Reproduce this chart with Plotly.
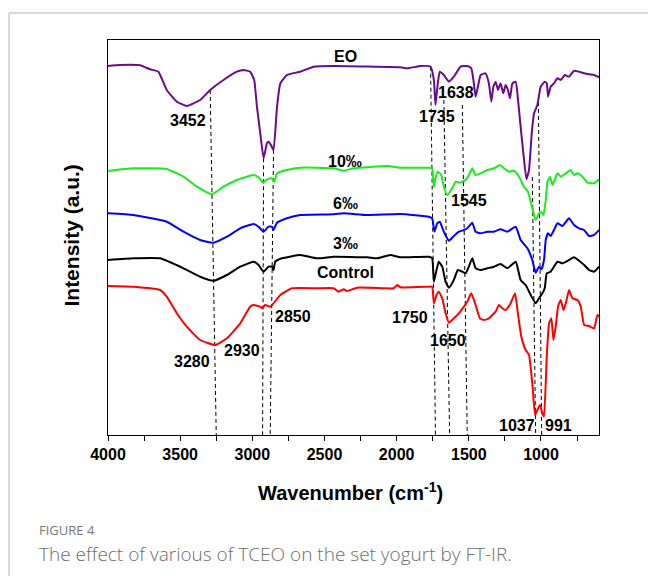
import plotly.graph_objects as go

# ---------------- data ----------------
eo_wn = [4000, 3917, 3778, 3709, 3651, 3593, 3523, 3454, 3362, 3292, 3200, 3107, 3061, 3015, 2987, 2968,
         2945, 2922, 2899, 2888, 2871, 2853, 2829, 2806, 2760, 2668, 2575, 2436, 1974, 1927, 1835, 1765,
         1742, 1731, 1715, 1701, 1673, 1638, 1604, 1557, 1511, 1483, 1465, 1453, 1437, 1418, 1384, 1361,
         1344, 1330, 1314, 1298, 1280, 1261, 1245, 1229, 1215, 1198, 1175, 1160, 1141, 1122, 1101, 1083,
         1064, 1048, 1025, 1002, 974, 960, 951, 933, 910, 886, 863, 835, 806, 771, 736, 701, 667, 632, 597]
eo_int = [369, 370, 369.7, 365.7, 363.3, 345, 333.3, 329, 335, 345, 355, 363.3, 365, 363.3, 355, 328.3,
          301.7, 276.7, 291.7, 293.3, 290, 285, 328.3, 351.7, 360, 363.3, 368.3, 369, 367.7, 366.7, 369, 368.3,
          355, 330, 351.7, 363.3, 360, 353.3, 358.3, 368.3, 369, 366.7, 351.7, 338.3, 348.3, 360, 361.7, 351.7,
          333.3, 348.3, 353.3, 345, 351.7, 341.7, 350, 345, 336.7, 351.7, 353.3, 336.7, 308.3, 281.7, 255.7, 265,
          301.7, 321.7, 330, 348.3, 353.3, 351.7, 338.3, 348.3, 351.7, 356.7, 355, 360, 358.3, 364.3, 363.3, 361.7,
          360.7, 360, 357.7]

p10_wn = [4000, 3824, 3593, 3477, 3384, 3280, 3200, 3107, 3037, 2991, 2957, 2926, 2899, 2864, 2848, 2829,
          2760, 2668, 2436, 2367, 2298, 2066, 1974, 1777, 1754, 1742, 1731, 1715, 1691, 1673, 1649, 1615,
          1592, 1562, 1545, 1522, 1500, 1476, 1453, 1418, 1372, 1326, 1284, 1257, 1222, 1187, 1152, 1118,
          1090, 1060, 1037, 1014, 1002, 983, 967, 955, 937, 921, 905, 886, 863, 828, 794, 771, 747, 713,
          678, 632, 597]
p10_int = [264, 266.7, 266, 258.3, 248.3, 240.7, 248.3, 255, 258.3, 260, 257.7, 252.3, 255.7, 256.7, 253.3, 261.7,
           265, 267.3, 266.7, 264.3, 266.7, 269, 267.3, 267.3, 266.7, 248.3, 256.7, 263.3, 260, 248.3, 240, 246.7,
           253.3, 252.3, 253.3, 255, 260, 266.7, 260, 261.7, 265, 266.7, 270, 266.7, 263.3, 264.3, 258.3, 248.3,
           243.3, 226.7, 215, 221.7, 223.3, 220, 235, 253.3, 258.3, 250, 255, 261.7, 258.3, 261.7, 265, 260, 261.7, 258.3,
           252.3, 251.7, 255.7]

p6_wn = [4000, 3824, 3593, 3477, 3362, 3269, 3176, 3084, 2991, 2957, 2922, 2888, 2864, 2853, 2829, 2760,
         2668, 2436, 2367, 2205, 1974, 1777, 1754, 1738, 1719, 1701, 1673, 1638, 1604, 1569, 1534, 1511,
         1476, 1453, 1418, 1372, 1326, 1280, 1233, 1175, 1141, 1094, 1060, 1037, 1014, 997, 979, 967,
         951, 933, 910, 886, 851, 806, 771, 736, 701, 667, 632, 597]
p6_int = [221.7, 220, 213.3, 203.3, 195, 192.3, 198.3, 206.7, 211, 208.3, 203.3, 208.3, 208.3, 205, 212.3, 216.7,
          220, 220.7, 221.7, 220, 221, 218.3, 216.7, 203.3, 211.7, 213.3, 203.3, 194.3, 199, 203.3, 205, 206.7,
          212.3, 203.3, 201.7, 203.3, 203.3, 205.7, 203.3, 208.3, 195, 186.7, 175, 162.3, 168.3, 165.7, 175, 195,
          201.7, 199, 205, 211.7, 209, 216.7, 210, 206.7, 205, 199, 200, 205]

p3_wn = [4000, 3824, 3639, 3477, 3362, 3269, 3176, 3084, 2991, 2957, 2922, 2888, 2864, 2853, 2841, 2795,
         2668, 2552, 2436, 2205, 2135, 2043, 1974, 1777, 1754, 1742, 1724, 1708, 1684, 1661, 1638, 1604,
         1576, 1545, 1522, 1500, 1476, 1453, 1418, 1372, 1326, 1280, 1233, 1175, 1141, 1106, 1071, 1037,
         1014, 990, 974, 960, 933, 910, 886, 851, 806, 771, 736, 701, 667, 632, 597]
p3_int = [175, 176.7, 176.7, 166.7, 158.3, 154.3, 160, 168.3, 173.3, 170, 163.3, 168.3, 168.3, 165, 173.3, 176.7,
          180, 176.7, 178.3, 177.7, 176.7, 180, 177.7, 178.3, 176.7, 153.3, 165, 173.3, 168.3, 153.3, 147.3, 155,
          165, 163.3, 161.7, 168.3, 176.7, 166.7, 165, 166.7, 168.3, 171, 166.7, 173.3, 155, 150, 140, 131.7,
          136.7, 141.7, 146.7, 161.7, 163.3, 168.3, 173.3, 171.7, 175, 177.7, 174.3, 170, 165, 163.3, 168.3]

ctrl_wn = [4000, 3824, 3639, 3593, 3523, 3454, 3362, 3257, 3176, 3084, 3015, 2991, 2945, 2933, 2910, 2876,
           2853, 2806, 2725, 2552, 2436, 2402, 2367, 2343, 2274, 2089, 2020, 1996, 1974, 1777, 1754, 1742,
           1724, 1708, 1684, 1661, 1638, 1604, 1569, 1534, 1511, 1483, 1453, 1423, 1395, 1361, 1337, 1314,
           1291, 1268, 1245, 1210, 1180, 1160, 1136, 1106, 1083, 1060, 1041, 1025, 1007, 990, 979, 960,
           944, 928, 914, 898, 882, 863, 844, 828, 806, 782, 747, 724, 701, 667, 632, 609, 597]
ctrl_int = [149, 148.3, 145, 138.3, 121.7, 108.3, 95, 90, 96.7, 111.7, 128.3, 130, 128.3, 126.7, 130, 128.3,
            131.7, 140, 146.7, 146.7, 146.7, 143.3, 145.7, 144, 147.3, 146.7, 146.7, 150, 147.7, 148.3, 148.3, 131.7,
            140, 143.3, 136.7, 121.7, 112.3, 116.7, 121.7, 128.3, 133.3, 141.7, 130, 116.7, 115, 116.7, 120, 123.3,
            130, 126.7, 125, 131.7, 141.7, 121.7, 98.3, 85, 80, 51.7, 20, 25, 30, 21.7, 18.3, 78.3,
            111.7, 116.7, 95, 108.3, 128.3, 135, 125, 131.7, 145, 136.7, 135, 128.3, 110, 109, 106.7, 120, 118.3]

# marker (dashed) lines: wavenumber at top, intensity at top, wavenumber at bottom
guide_top_wn = [3292, 2922, 2853, 1765, 1673, 1545, 1060, 1018]
guide_top_int = [345, 276.7, 285, 368.3, 335, 330, 258, 333]
guide_bot_wn = [3250, 2929, 2876, 1731, 1633, 1511, 1037, 995]

# peak / series labels: text, wavenumber, intensity
label_text = ["EO", "3452", "1735", "1638", "10‰", "1545", "6‰", "3‰", "Control",
              "2850", "2930", "3280", "1750", "1650", "1037", "991"]
label_wn = [2355, 3445, 1719, 1592, 2355, 1500, 2355, 2355, 2355,
            2718, 3072, 3419, 1911, 1645, 1164, 882]
label_int = [378.3, 315, 318.3, 342.7, 273.3, 234.3, 231.7, 191.7, 162.7,
             118.3, 85, 73.3, 118, 95, 10, 10]

tick_vals = [4000, 3500, 3000, 2500, 2000, 1500, 1000]
minor_tick_vals = [3750, 3250, 2750, 2250, 1750, 1250, 750]

series = [
    ("EO", eo_wn, eo_int, "#6a0a8c"),
    ("10‰", p10_wn, p10_int, "#1aeb1a"),
    ("6‰", p6_wn, p6_int, "#0000ff"),
    ("3‰", p3_wn, p3_int, "#000000"),
    ("Control", ctrl_wn, ctrl_int, "#ff0000"),
]

# ---------------- figure ----------------
fig = go.Figure()
for name, xs, ys, col in series:
    fig.add_trace(go.Scatter(x=xs, y=ys, mode="lines", name=name,
                             line=dict(color=col, width=2, shape="spline", smoothing=0.4),
                             showlegend=False, hoverinfo="skip"))

for t_wn, t_i, b_wn in zip(guide_top_wn, guide_top_int, guide_bot_wn):
    fig.add_shape(type="line", xref="x", yref="y", x0=t_wn, y0=t_i, x1=b_wn, y1=0,
                  line=dict(color="black", width=1, dash="4px,3px"), layer="below")

FONT = "Liberation Sans, Arial, sans-serif"
for txt, wn, it in zip(label_text, label_wn, label_int):
    fig.add_annotation(x=wn, y=it, xref="x", yref="y", text=txt, showarrow=False,
                       font=dict(family=FONT, size=16, color="black", weight="bold"),
                       xanchor="center", yanchor="middle")

# axis titles as annotations
fig.add_annotation(x=0.4929, y=-0.142, xref="paper", yref="paper",
                   text="Wavenumber (cm<sup>-1</sup>)", showarrow=False,
                   font=dict(family=FONT, size=20, color="black", weight="bold"),
                   xanchor="center", yanchor="middle")
fig.add_annotation(x=-0.0733, y=0.505, xref="paper", yref="paper", textangle=-90,
                   text="Intensity (a.u.)", showarrow=False,
                   font=dict(family=FONT, size=21, color="black", weight="bold"),
                   xanchor="center", yanchor="middle")

# caption
fig.add_annotation(x=-0.1446, y=-0.2405, xref="paper", yref="paper", text="FIGURE 4", showarrow=False,
                   font=dict(family="Open Sans, sans-serif", size=13, color="#777777"),
                   xanchor="left", yanchor="middle")
fig.add_annotation(x=-0.1446, y=-0.3013, xref="paper", yref="paper",
                   text="The effect of various of TCEO on the set yogurt by FT-IR.", showarrow=False,
                   font=dict(family="Open Sans, sans-serif", size=19, color="#6e6e6e", weight=300),
                   xanchor="left", yanchor="middle")

# outer frame (left and top edges)
fig.add_shape(type="line", xref="paper", yref="paper", x0=-0.2016, y0=1.0684, x1=-0.2016, y1=-0.5,
              line=dict(color="#b4b4b4", width=1))
fig.add_shape(type="line", xref="paper", yref="paper", x0=-0.2016, y0=1.0684, x1=1.2, y1=1.0684,
              line=dict(color="#b4b4b4", width=1))

fig.update_xaxes(range=[4000, 598], tickvals=tick_vals, ticks="outside", ticklen=5, tickwidth=1.3,
                 tickcolor="black", showline=True, linecolor="black", linewidth=1.3, mirror=True,
                 showgrid=False, zeroline=False,
                 tickfont=dict(family=FONT, size=16, color="black", weight="bold"),
                 minor=dict(tickvals=minor_tick_vals, ticks="outside",
                            ticklen=5, tickwidth=1.3, tickcolor="black"))
fig.update_yaxes(range=[0, 395], showticklabels=False, ticks="", showline=True, linecolor="black",
                 linewidth=1.3, mirror=True, showgrid=False, zeroline=False)

fig.update_layout(width=648, height=576, margin=dict(l=108, r=49, t=40, b=141),
                  paper_bgcolor="white", plot_bgcolor="white",
                  font=dict(family=FONT))

fig.write_html("out.html")
